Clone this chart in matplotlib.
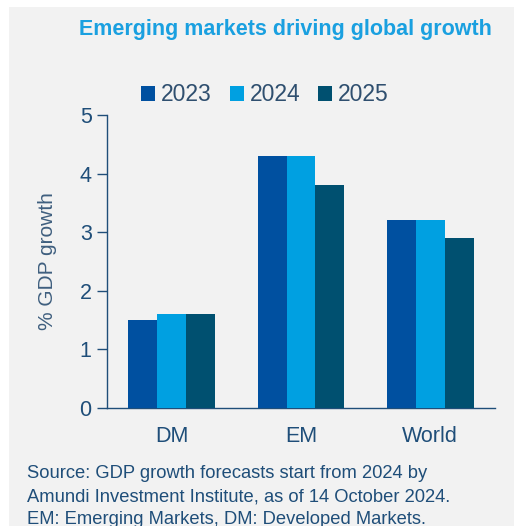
import matplotlib
matplotlib.use("Agg")
import matplotlib.pyplot as plt
import numpy as np

categories = ["DM", "EM", "World"]
years = ["2023", "2024", "2025"]
values_2023 = [1.5, 4.3, 3.2]
values_2024 = [1.6, 4.3, 3.2]
values_2025 = [1.6, 3.8, 2.9]
yticks = [0, 1, 2, 3, 4, 5]
source_lines = ["Source: GDP growth forecasts start from 2024 by",
                "Amundi Investment Institute, as of 14 October 2024.",
                "EM: Emerging Markets, DM: Developed Markets."]

colors = ["#0050A0", "#00A0E1", "#005070"]
text_col = "#1F4E79"
bg = "#F2F2F2"

plt.rcParams['font.family'] = ['Liberation Sans', 'DejaVu Sans']

W, H = 514, 526
fig = plt.figure(figsize=(W/100, H/100), dpi=100)
fig.patch.set_facecolor("white")
panel = plt.Rectangle((9/W, 0), 1 - 9/W, 1 - 7/H, transform=fig.transFigure,
                      facecolor=bg, edgecolor="none", zorder=-10)
fig.patches.append(panel)

ax = fig.add_axes([107/W, 1 - 408/H, (495-107)/W, (408-115)/H])
ax.set_facecolor("none")

x = np.arange(len(categories))
bw = 0.224
series = [values_2023, values_2024, values_2025]
for i, (vals, c, lab) in enumerate(zip(series, colors, years)):
    ax.bar(x + (i - 1) * bw, vals, width=bw, color=c, label=lab, zorder=3)

ax.set_xlim(-0.5, 2.5)
ax.set_ylim(0, 5)
ax.set_yticks(yticks)
ax.set_xticks(x)
ax.set_xticklabels(categories)
for s in ["top", "right"]:
    ax.spines[s].set_visible(False)
for s in ["left", "bottom"]:
    ax.spines[s].set_color(text_col)
    ax.spines[s].set_linewidth(1.0)
ax.tick_params(axis="y", colors=text_col, labelsize=15.5, length=7, width=1, pad=4)
ax.tick_params(axis="x", colors=text_col, labelsize=15.5, length=0, pad=13)
ax.set_ylabel("% GDP growth", color="#3F5F7F", fontsize=15, labelpad=16)

leg = ax.legend(loc="center", bbox_to_anchor=((265-107)/(495-107), 1 + (115-95)/(408-115)),
                ncol=3, frameon=False, fontsize=16.5, handlelength=0.6, handleheight=0.6,
                handletextpad=0.25, columnspacing=0.8, labelcolor="#2F4F6F")

fig.text(492/W, 1 - 30/H, "Emerging markets driving global growth", ha="right", va="center",
         fontsize=15.5, fontweight="bold", color="#1AA0E0")

for k, line in enumerate(source_lines):
    fig.text(27/W, 1 - (474 + 22.5 * k)/H, line, ha="left", va="center",
             fontsize=13.2, color=text_col)

fig.savefig("out.png", dpi=100, facecolor=fig.get_facecolor())
